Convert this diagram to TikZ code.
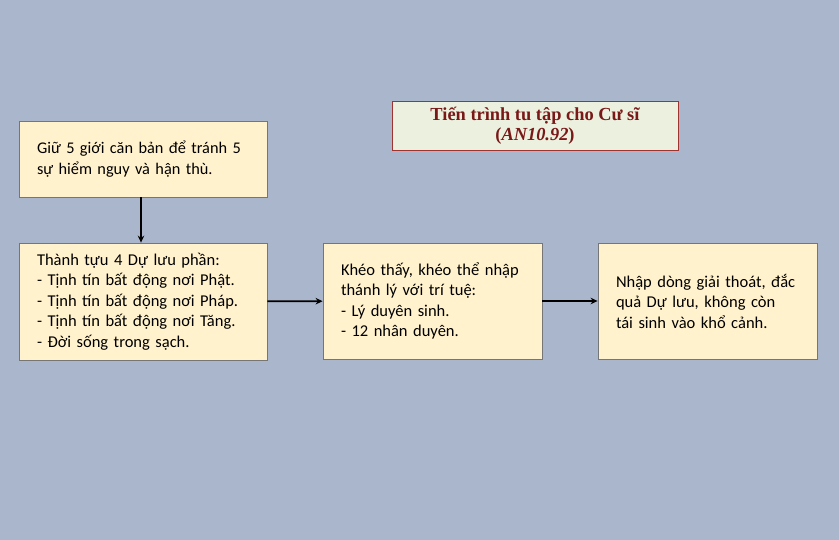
\documentclass[tikz,border=0pt]{standalone}
\usepackage{fontspec}
\setmainfont{Carlito}
\newfontfamily\titlefont{Liberation Serif}
\usepackage{tikz}
\usetikzlibrary{arrows.meta}
\definecolor{slidebg}{RGB}{170,182,203}
\definecolor{boxfill}{RGB}{255,242,204}
\definecolor{boxline}{RGB}{118,118,118}
\definecolor{titlefill}{RGB}{235,241,222}
\definecolor{titleline}{RGB}{160,50,48}
\definecolor{titletext}{RGB}{122,24,24}
\tikzset{>={Stealth[length=7pt,width=6.5pt]}}

\begin{document}
\begin{tikzpicture}[x=1pt,y=-1pt,
    box/.style={draw=boxline, line width=0.8pt, fill=boxfill, align=left,
        inner xsep=18pt, anchor=center, font=\fontsize{16.5}{20.5}\selectfont},
    flow/.style={->, line width=1.7pt, black}]
            \fill[slidebg] (0,0) rectangle (839,540);

            \node[draw=titleline, line width=0.8pt, fill=titlefill, minimum width=286pt,
                minimum height=49pt, align=center, text=titletext,
                font=\titlefont\bfseries\fontsize{18.4}{20}\selectfont]
                (title) at (535,125.5) {Tiến trình tu tập cho Cư sĩ\\(\textit{AN10.92})};

            \node[box, minimum width=248pt, minimum height=76pt, text width=212pt,
                font=\fontsize{16.3}{21.5}\selectfont]
                (keep) at (143,159) {Giữ 5 giới căn bản để tránh 5\\sự hiểm nguy và hận thù.};
            \node[box, minimum width=248pt, minimum height=117pt, text width=212pt]
                (gain) at (143,301.5) {Thành tựu 4 Dự lưu phần:\\- Tịnh tín bất động nơi Phật.\\- Tịnh tín bất động nơi Pháp.\\- Tịnh tín bất động nơi Tăng.\\- Đời sống trong sạch.};
            \node[box, minimum width=219pt, minimum height=116pt, text width=183pt]
                (see) at (432.5,301) {Khéo thấy, khéo thể nhập\\thánh lý với trí tuệ:\\- Lý duyên sinh.\\- 12 nhân duyên.};
            \node[box, minimum width=219pt, minimum height=116pt, text width=183pt]
                (enter) at (707.5,301) {Nhập dòng giải thoát, đắc\\quả Dự lưu, không còn\\tái sinh vào khổ cảnh.};

            \draw[flow] (keep.south -| 141,0) -- (gain.north -| 141,0);
            \draw[flow] (gain) -- (see);
            \draw[flow] (see) -- (enter);
\end{tikzpicture}
\end{document}
